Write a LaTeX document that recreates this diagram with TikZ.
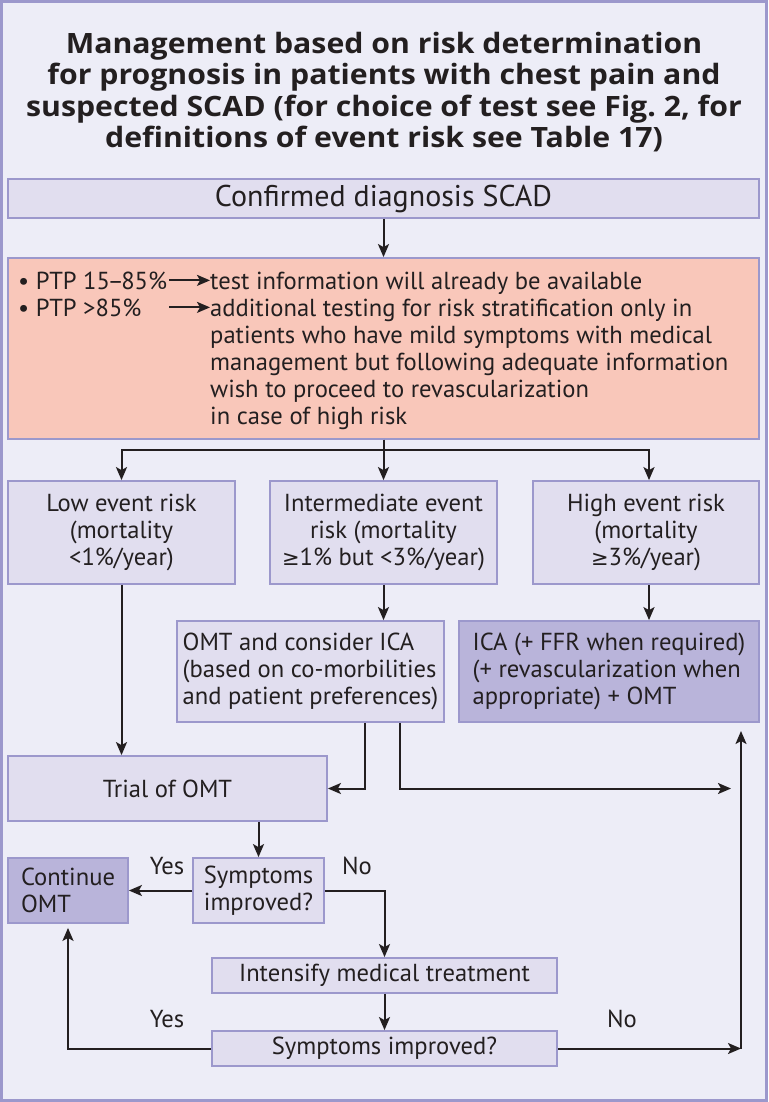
\documentclass[tikz,border=0pt]{standalone}
\usepackage{fontspec}
\setmainfont{PT Sans}
\newfontfamily\titlef[FakeStretch=1.08]{Open Sans}
\newfontfamily\symf{DejaVu Sans}
\usetikzlibrary{arrows.meta}
\definecolor{bg}{HTML}{EDEDF7}
\definecolor{frm}{HTML}{9C98CC}
\definecolor{lbox}{HTML}{E1DEEF}
\definecolor{dbox}{HTML}{B9B4DA}
\definecolor{pinkf}{HTML}{F9C7BA}
\definecolor{ink}{HTML}{231F20}
\newcommand\mybody{\fontsize{24.6}{27.2}\selectfont}
\newcommand\mybig{\fontsize{30}{30}\selectfont}
\newcommand\mytitle{\titlef\fontsize{28}{31.5}\selectfont\bfseries}
\newcommand\mygeq{{\symf\fontsize{21}{27}\selectfont ≥}}
\begin{document}
\begin{tikzpicture}[x=1pt,y=-1pt,
  box/.style={draw=frm, line width=1.8pt, fill=lbox, text=ink, inner sep=0pt, align=center, font=\mybody},
  dark/.style={box, fill=dbox},
  pink/.style={box, fill=pinkf},
  txt/.style={text=ink, inner sep=0pt, font=\mybody, anchor=base west},
  lbl/.style={text=ink, inner sep=0pt, font=\mybody},
  arr/.style={draw=ink, line width=2pt, -{Stealth[length=13pt,width=11pt,inset=3pt]}},
  ln/.style={draw=ink, line width=2pt}]
\useasboundingbox (0,0) rectangle (768,1102);
\draw[fill=bg, draw=frm, line width=3pt] (1.5,1.5) rectangle (766.5,1100.5);

\node[lbl, font=\mytitle, align=center] (title) at (384,92)
 {Management based on risk determination\\for prognosis in patients with chest pain and\\suspected SCAD (for choice of test see Fig.~2, for\\definitions of event risk see Table 17)};

\node[box, font=\mybig, minimum width=751pt, minimum height=39pt] (conf) at (383.5,198.5) {Confirmed diagnosis SCAD};

\node[pink, minimum width=751pt, minimum height=181pt] (risk) at (383.5,348.5) {};
\node[txt] (b1) at (18,289) {• PTP 15\kern-2.5pt–\kern-2.5pt85\%};
\node[txt] (b2) at (18,316) {• PTP >85\%};
\node[txt] (t1) at (210,289) {test information will already be available};
\node[txt] (t2) at (210,316) {additional testing for risk stratification only in};
\node[txt] (t3) at (210,343) {patients who have mild symptoms with medical};
\node[txt] (t4) at (210,370) {management but following adequate information};
\node[txt] (t5) at (210,397) {wish to proceed to revascularization};
\node[txt] (t6) at (210,424) {in case of high risk};

\node[box, minimum width=227pt, minimum height=103pt] (low) at (121.5,532.5) {Low event risk\\(mortality\\<1\%/year)};
\node[box, minimum width=227pt, minimum height=103pt] (mid) at (383.5,532.5) {Intermediate event\\risk (mortality\\\mygeq1\% but <3\%/year)};
\node[box, minimum width=226pt, minimum height=103pt] (high) at (646,532.5) {High event risk\\(mortality\\\mygeq3\%/year)};

\node[box, minimum width=267pt, minimum height=101pt, align=left] (omt) at (310.5,671.5) {OMT and consider ICA\\(based on co-morbilities\\and patient preferences)};
\node[dark, minimum width=300pt, minimum height=101pt, align=left] (ica) at (609,671.5) {ICA (+ FFR when required)\\(+ revascularization when\\appropriate) + OMT};

\node[box, minimum width=319pt, minimum height=65pt] (trial) at (167.5,788.5) {Trial of OMT};
\node[box, minimum width=131pt, minimum height=65pt] (sym1) at (258.5,890.5) {Symptoms\\improved?};
\node[dark, minimum width=120pt, minimum height=65pt, align=left] (cont) at (68,890.5) {Continue\\OMT\hspace*{34pt}};
\node[box, minimum width=345pt, minimum height=35pt] (intens) at (384.5,975.5) {Intensify medical treatment};
\node[box, minimum width=345pt, minimum height=35pt] (sym2) at (384.5,1048.5) {Symptoms improved?};

\coordinate (c1) at (731,788.5);
\coordinate (vbot) at (741,1048.5);
\coordinate (vtop) at (741,731);

% connectors
\draw[arr] ([xshift=2pt]b1.east) -- (b1.east -| t1.west);
\draw[arr] ([xshift=2pt]b1.east |- b2.east) -- (b2.east -| t2.west);
\draw[arr] (conf.south) -- (risk.north);
\draw[arr] (risk.south) -- (mid.north);
\draw[arr] (risk.south) -- ++(0,10) -| (low.north);
\draw[arr] (risk.south) -- ++(0,10) -| ([xshift=3pt]high.north);
\draw[arr] (low.south) -- (low.south |- trial.north);
\draw[arr] (mid.south) -- (mid.south |- omt.north);
\draw[arr] ([xshift=3pt]high.south) -- ([xshift=3pt]high.south |- ica.north);
\draw[arr] ([xshift=54.5pt]omt.south) |- (trial.east);
\draw[arr] ([xshift=89.5pt]omt.south) |- (c1);
\draw[arr] (sym1.north |- trial.south) -- (sym1.north);
\draw[arr] (sym1.west) -- (cont.east);
\draw[arr] (sym1.east) -| (intens.north);
\draw[arr] (intens.south) -- (sym2.north);
\draw[arr, shorten >=4pt] (sym2.west) -| (cont.south);
\draw[arr] (sym2.east) -- (vbot);
\draw[arr] (vbot) -- (vtop);

\node[lbl] (yes1) at (167,866) {Yes};
\node[lbl] (no1) at (357,866) {No};
\node[lbl] (yes2) at (167,1019) {Yes};
\node[lbl] (no2) at (622,1019) {No};
\end{tikzpicture}
\end{document}
